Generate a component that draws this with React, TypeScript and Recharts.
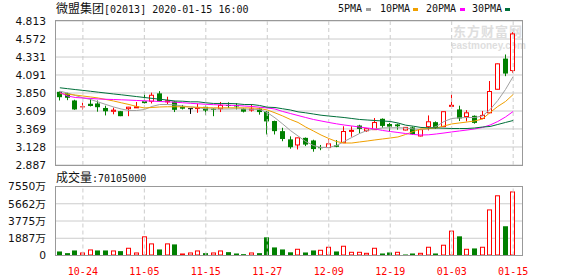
import React from 'react';
import { ComposedChart, Bar, Line, XAxis, YAxis, CartesianGrid, ReferenceLine } from 'recharts';

// trading days shown (MM-DD)
const dates = [
  '10-21', '10-22', '10-23', '10-24', '10-25', '10-28', '10-29', '10-30', '10-31', '11-01',
  '11-04', '11-05', '11-06', '11-07', '11-08', '11-11', '11-12', '11-13', '11-14', '11-15',
  '11-18', '11-19', '11-20', '11-21', '11-22', '11-25', '11-26', '11-27', '11-28', '11-29',
  '12-02', '12-03', '12-04', '12-05', '12-06', '12-09', '12-10', '12-11', '12-12', '12-13',
  '12-16', '12-17', '12-18', '12-19', '12-20', '12-23', '12-24', '12-27', '12-30', '12-31',
  '01-02', '01-03', '01-06', '01-07', '01-08', '01-09', '01-10', '01-13', '01-14', '01-15',
];

const openP = [
  3.866, 3.846, 3.75, 3.665, 3.706, 3.71, 3.65, 3.605, 3.607, 3.64,
  3.655, 3.74, 3.74, 3.845, 3.735, 3.735, 3.665, 3.64, 3.648, 3.665,
  3.64, 3.64, 3.69, 3.69, 3.64, 3.625, 3.64, 3.6, 3.475, 3.34,
  3.23, 3.155, 3.25, 3.215, 3.125, 3.12, 3.15, 3.185, 3.345, 3.415,
  3.345, 3.36, 3.505, 3.435, 3.43, 3.355, 3.39, 3.275, 3.4, 3.46,
  3.4, 3.675, 3.63, 3.535, 3.545, 3.51, 3.585, 3.9, 4.31, 4.15,
];
const highP = [
  3.87, 3.853, 3.76, 3.72, 3.774, 3.75, 3.68, 3.655, 3.61, 3.665,
  3.73, 3.85, 3.855, 3.875, 3.8, 3.74, 3.69, 3.64, 3.705, 3.685,
  3.645, 3.73, 3.725, 3.715, 3.645, 3.695, 3.655, 3.61, 3.48, 3.385,
  3.27, 3.255, 3.255, 3.225, 3.155, 3.23, 3.22, 3.405, 3.405, 3.425,
  3.38, 3.515, 3.51, 3.45, 3.44, 3.395, 3.4, 3.37, 3.55, 3.47,
  3.605, 3.83, 3.68, 3.62, 3.55, 3.61, 4.01, 4.245, 4.365, 4.663,
];
const lowP = [
  3.75, 3.754, 3.625, 3.63, 3.67, 3.6, 3.55, 3.565, 3.54, 3.54,
  3.655, 3.71, 3.71, 3.735, 3.7, 3.595, 3.63, 3.57, 3.585, 3.555,
  3.54, 3.595, 3.65, 3.63, 3.59, 3.6, 3.56, 3.295, 3.295, 3.205,
  3.105, 3.095, 3.14, 3.065, 3.085, 3.115, 3.125, 3.18, 3.265, 3.31,
  3.33, 3.355, 3.385, 3.33, 3.36, 3.35, 3.29, 3.27, 3.35, 3.37,
  3.395, 3.675, 3.475, 3.47, 3.44, 3.5, 3.58, 3.895, 4.075, 4.12,
];
const closeP = [
  3.794, 3.786, 3.63, 3.665, 3.676, 3.66, 3.605, 3.62, 3.54, 3.66,
  3.665, 3.715, 3.82, 3.74, 3.745, 3.625, 3.64, 3.64, 3.655, 3.615,
  3.625, 3.685, 3.685, 3.67, 3.6, 3.635, 3.595, 3.47, 3.34, 3.235,
  3.125, 3.25, 3.16, 3.1, 3.12, 3.17, 3.13, 3.335, 3.35, 3.37,
  3.372, 3.455, 3.41, 3.4, 3.405, 3.39, 3.3, 3.36, 3.465, 3.38,
  3.6, 3.685, 3.51, 3.585, 3.45, 3.55, 3.87, 4.24, 4.11, 4.64,
];

// volume in 万
const volume = [
  442, 258, 552, 331, 662, 552, 552, 552, 478, 846,
  331, 2097, 1325, 662, 1325, 1214, 221, 331, 552, 258,
  331, 552, 368, 221, 147, 331, 258, 1987, 883, 662,
  350, 736, 331, 552, 626, 957, 442, 1067, 405, 405,
  294, 846, 221, 331, 405, 110, 221, 294, 957, 221,
  1178, 2723, 2098, 736, 773, 957, 5042, 6587, 3202, 7010.5,
];

const ma5 = [
  3.874, 3.85, 3.817, 3.786, 3.763, 3.73, 3.696, 3.663, 3.636, 3.616,
  3.616, 3.629, 3.67, 3.696, 3.696, 3.69, 3.676, 3.663, 3.652, 3.639,
  3.636, 3.636, 3.636, 3.639, 3.636, 3.632, 3.629, 3.589, 3.518, 3.436,
  3.349, 3.275, 3.201, 3.148, 3.121, 3.121, 3.148, 3.201, 3.255, 3.308,
  3.349, 3.369, 3.382, 3.385, 3.385, 3.382, 3.369, 3.362, 3.369, 3.402,
  3.469, 3.509, 3.518, 3.522, 3.522, 3.543, 3.629, 3.75, 3.897, 4.071,
];
const ma10 = [
  3.843, 3.833, 3.823, 3.81, 3.797, 3.783, 3.763, 3.743, 3.719, 3.696,
  3.67, 3.65, 3.656, 3.663, 3.666, 3.666, 3.666, 3.663, 3.659, 3.654,
  3.652, 3.652, 3.652, 3.652, 3.652, 3.65, 3.643, 3.623, 3.585, 3.543,
  3.496, 3.456, 3.395, 3.342, 3.288, 3.242, 3.201, 3.181, 3.181, 3.195,
  3.208, 3.222, 3.235, 3.248, 3.262, 3.295, 3.335, 3.369, 3.375, 3.382,
  3.409, 3.436, 3.449, 3.462, 3.476, 3.502, 3.589, 3.67, 3.736, 3.83,
];
const ma20 = [
  3.857, 3.81, 3.79, 3.783, 3.777, 3.77, 3.766, 3.763, 3.759, 3.755,
  3.75, 3.746, 3.742, 3.736, 3.732, 3.727, 3.72, 3.712, 3.706, 3.699,
  3.694, 3.69, 3.686, 3.683, 3.676, 3.67, 3.66, 3.65, 3.636, 3.603,
  3.576, 3.549, 3.522, 3.496, 3.476, 3.456, 3.438, 3.422, 3.409, 3.395,
  3.382, 3.369, 3.349, 3.335, 3.322, 3.308, 3.295, 3.288, 3.291, 3.302,
  3.315, 3.329, 3.342, 3.355, 3.369, 3.389, 3.422, 3.469, 3.529, 3.603,
];
const ma30 = [
  3.92, 3.908, 3.896, 3.885, 3.873, 3.861, 3.849, 3.837, 3.826, 3.814,
  3.802, 3.79, 3.778, 3.767, 3.755, 3.743, 3.74, 3.732, 3.732, 3.719,
  3.71, 3.71, 3.71, 3.706, 3.696, 3.696, 3.683, 3.66, 3.656, 3.639,
  3.623, 3.598, 3.585, 3.569, 3.553, 3.542, 3.532, 3.522, 3.509, 3.496,
  3.489, 3.482, 3.476, 3.469, 3.449, 3.42, 3.406, 3.389, 3.385, 3.382,
  3.379, 3.375, 3.375, 3.375, 3.382, 3.395, 3.402, 3.429, 3.456, 3.482,
];

const priceTicks = [2.887, 3.128, 3.369, 3.609, 3.85, 4.091, 4.331, 4.572, 4.813];
const volTicks = [0, 1887, 3775, 5662, 7550];
const dateTicks = ['10-24', '11-05', '11-15', '11-27', '12-09', '12-19', '01-03', '01-15'];

const RED = '#ff0000';
const GREEN = '#008000';
const maColors = { ma5: '#a0a0a0', ma10: '#f0a000', ma20: '#ff00ff', ma30: '#006f3a' };

const rows = dates.map((date, i) => ({
  date,
  open: openP[i],
  high: highP[i],
  low: lowP[i],
  close: closeP[i],
  prev: i > 0 ? closeP[i - 1] : openP[i],
  vol: volume[i],
  ma5: ma5[i],
  ma10: ma10[i],
  ma20: ma20[i],
  ma30: ma30[i],
}));

const axisFont = { fontSize: 10.7, fontFamily: 'DejaVu Sans, "Noto Sans CJK SC"', fill: '#111' };
const mono = '"DejaVu Sans Mono", monospace';
const cjk = '"Noto Sans CJK SC", sans-serif';

function CandleShape(props: any) {
  const { x, y, width, height, payload } = props;
  const { open, close, high, low, prev } = payload;
  const top = Math.min(y, y + height);
  const h = Math.abs(height);
  const k = high > low ? h / (high - low) : 0;
  const py = (v: number) => top + (high - v) * k;
  const bx = Math.round(x + width / 2 - 2.5);
  const cx = bx + 2.5;
  const yO = py(open);
  const yC = py(close);
  const bTop = Math.min(yO, yC);
  const bBot = Math.max(yO, yC);
  if (close > open) {
    return (
      <g>
        <line x1={cx} x2={cx} y1={top} y2={bTop} stroke={RED} />
        <line x1={cx} x2={cx} y1={bBot} y2={top + h} stroke={RED} />
        <rect x={bx + 0.5} y={bTop} width={4} height={Math.max(bBot - bTop, 1)} fill="#fff" stroke={RED} />
      </g>
    );
  }
  if (close < open) {
    return (
      <g>
        <line x1={cx} x2={cx} y1={top} y2={top + h} stroke={GREEN} />
        <rect x={bx} y={bTop} width={5} height={Math.max(bBot - bTop, 1)} fill={GREEN} />
      </g>
    );
  }
  const c = close > prev ? RED : close < prev ? GREEN : '#000';
  return (
    <g>
      <line x1={cx} x2={cx} y1={top} y2={top + h} stroke={c} />
      <line x1={bx} x2={bx + 5} y1={yO} y2={yO} stroke={c} />
    </g>
  );
}

function VolShape(props: any) {
  const { x, y, width, height, payload } = props;
  const up = payload.close > payload.prev || (payload.close === payload.prev && payload.close >= payload.open);
  const bx = Math.round(x + width / 2 - 2.5);
  const top = Math.min(y, y + height);
  const h = Math.abs(height);
  if (up) {
    return <rect x={bx + 0.5} y={top + 0.5} width={4} height={Math.max(h - 1, 1)} fill="#fff" stroke={RED} />;
  }
  return <rect x={bx} y={top} width={5} height={h} fill={GREEN} />;
}

const legendItems = [
  { label: '5PMA', color: maColors.ma5, x: 338, sx: 366 },
  { label: '10PMA', color: maColors.ma10, x: 380, sx: 413 },
  { label: '20PMA', color: maColors.ma20, x: 426, sx: 460 },
  { label: '30PMA', color: maColors.ma30, x: 472, sx: 505 },
];

export default function App() {
  return (
    <div style={{ position: 'absolute', left: 0, top: 0, width: 578, height: 276, background: '#fff', overflow: 'hidden' }}>
      {/* watermark */}
      <div style={{ position: 'absolute', left: 453, top: 24, lineHeight: '13px', fontFamily: cjk, fontWeight: 700, fontSize: 13, letterSpacing: 1, color: '#dedede' }}>
        东方财富网
      </div>
      <div style={{ position: 'absolute', left: 451, top: 41, lineHeight: '9px', fontFamily: 'Liberation Sans, sans-serif', fontWeight: 700, fontSize: 10, color: '#dedede' }}>
        eastmoney.com
      </div>

      <div style={{ position: 'absolute', left: 0, top: 0 }}>
        <ComposedChart width={578} height={178} data={rows} margin={{ top: 21, right: 56, bottom: 13, left: 0 }}>
          <CartesianGrid vertical={false} stroke="#cccccc" />
          <XAxis dataKey="date" hide padding={{ left: 0, right: 5 }} />
          <YAxis
            type="number"
            domain={[2.887, 4.813]}
            ticks={priceTicks}
            interval={0}
            allowDataOverflow
            width={56}
            tickLine={false}
            axisLine={false}
            tickMargin={4}
            tick={axisFont}
            tickFormatter={(v: number) => v.toFixed(3)}
          />
          {dateTicks.map((d) => (
            <ReferenceLine key={d} x={d} stroke="#cccccc" strokeDasharray="4 3" />
          ))}
          <Bar dataKey={(d: any) => [d.low, d.high]} barSize={5} shape={<CandleShape />} isAnimationActive={false} />
          <Line type="linear" dataKey="ma5" stroke={maColors.ma5} dot={false} strokeWidth={1} isAnimationActive={false} />
          <Line type="linear" dataKey="ma10" stroke={maColors.ma10} dot={false} strokeWidth={1} isAnimationActive={false} />
          <Line type="linear" dataKey="ma20" stroke={maColors.ma20} dot={false} strokeWidth={1} isAnimationActive={false} />
          <Line type="linear" dataKey="ma30" stroke={maColors.ma30} dot={false} strokeWidth={1} isAnimationActive={false} />
        </ComposedChart>
      </div>

      <div style={{ position: 'absolute', left: 0, top: 160 }}>
        <ComposedChart width={578} height={116} data={rows} margin={{ top: 26.5, right: 56, bottom: 0, left: 0 }}>
          <CartesianGrid vertical={false} stroke="#cccccc" />
          <XAxis
            dataKey="date"
            ticks={dateTicks}
            interval={0}
            height={20.5}
            padding={{ left: 0, right: 5 }}
            tickLine={false}
            axisLine={false}
            tickMargin={6}
            tick={{ fontSize: 10, fontFamily: mono, fill: RED }}
          />
          <YAxis
            type="number"
            domain={[0, 7550]}
            ticks={volTicks}
            interval={0}
            allowDataOverflow
            width={56}
            tickLine={false}
            axisLine={false}
            tickMargin={4}
            tick={axisFont}
            tickFormatter={(v: number) => (v === 0 ? '0' : `${v}万`)}
          />
          {dateTicks.map((d) => (
            <ReferenceLine key={d} x={d} stroke="#cccccc" strokeDasharray="4 3" />
          ))}
          <Bar dataKey="vol" barSize={5} shape={<VolShape />} isAnimationActive={false} />
        </ComposedChart>
      </div>

      {/* plot borders */}
      <div style={{ position: 'absolute', left: 55, top: 20, width: 468, height: 146, boxSizing: 'border-box', border: '1px solid #999' }} />
      <div style={{ position: 'absolute', left: 55, top: 186, width: 468, height: 70, boxSizing: 'border-box', border: '1px solid #999' }} />

      {/* title */}
      <div style={{ position: 'absolute', left: 56, top: 0, lineHeight: '16px', whiteSpace: 'pre', color: '#111' }}>
        <span style={{ fontFamily: cjk, fontSize: 12 }}>微盟集团</span>
        <span style={{ fontFamily: mono, fontSize: 10 }}>[02013] 2020-01-15 16:00</span>
      </div>

      {/* legend */}
      {legendItems.map((it) => (
        <React.Fragment key={it.label}>
          <div style={{ position: 'absolute', left: it.x, top: 1, lineHeight: '16px', fontFamily: mono, fontSize: 10, color: '#111' }}>
            {it.label}
          </div>
          <div style={{ position: 'absolute', left: it.sx, top: 8, width: 5, height: 3, background: it.color }} />
        </React.Fragment>
      ))}

      {/* volume caption */}
      <div style={{ position: 'absolute', left: 56, top: 169, lineHeight: '16px', whiteSpace: 'pre', color: '#111' }}>
        <span style={{ fontFamily: cjk, fontSize: 12 }}>成交量</span>
        <span style={{ fontFamily: mono, fontSize: 10 }}>:70105000</span>
      </div>
    </div>
  );
}
